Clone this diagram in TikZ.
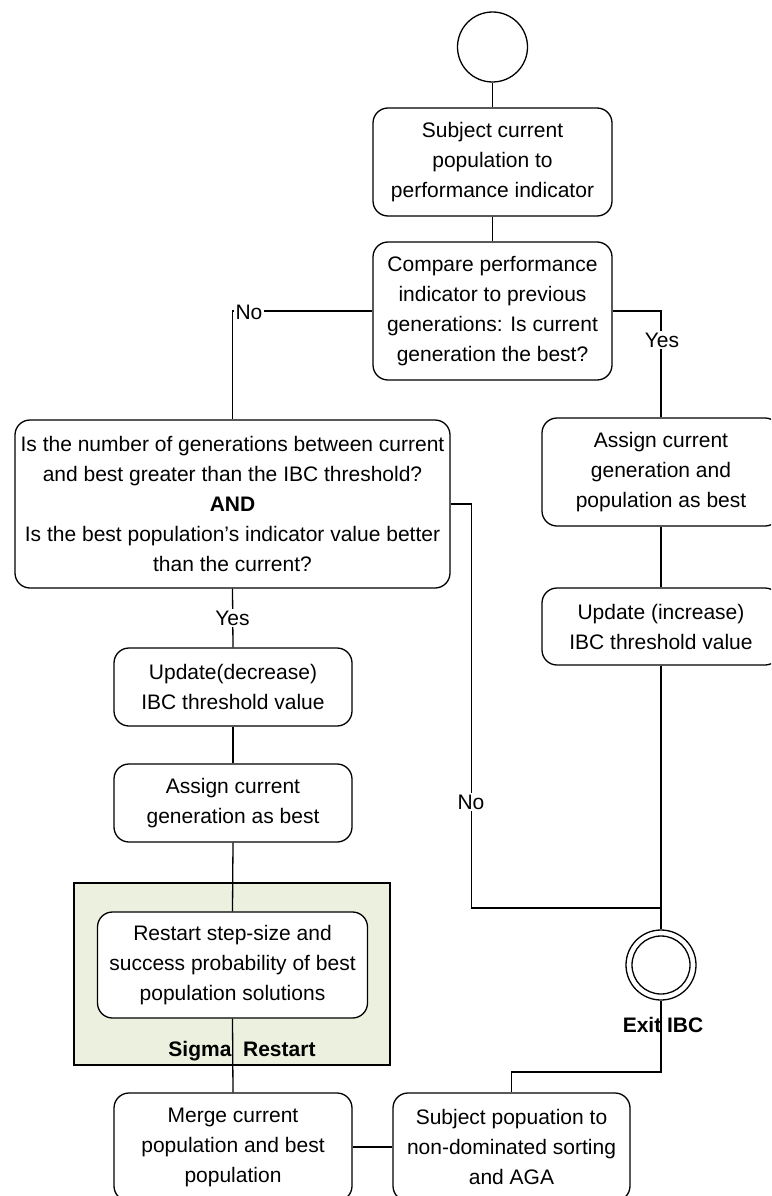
\documentclass[tikz,border=0pt]{standalone}
\usepackage{fontspec}
\setmainfont{Liberation Sans}
\definecolor{groupfill}{RGB}{235,241,222}
\begin{document}
\begin{tikzpicture}[x=1pt,y=-1pt,
  line width=1.3pt,
  every node/.style={font=\fontsize{21}{30}\selectfont},
  stepbox/.style={draw, rounded corners=15pt, fill=white, align=center, inner sep=2pt},
  lbl/.style={fill=white, inner sep=1.5pt},
  grouplbl/.style={font=\fontsize{21}{30}\selectfont\bfseries}]
\useasboundingbox (0,0) rectangle (771,1196);
\clip (0,0) rectangle (771,1196);

% Sigma restart group
\fill[groupfill] (74,883) rectangle (390,1065);
\draw (74,883) rectangle (390,1065);
\node[grouplbl] (sigmalbl) at (242,1051) {Sigma~~Restart};
\node[grouplbl] (exitlbl) at (663,1025) {Exit IBC};

% nodes
\node[circle, draw, fill=white, minimum size=70pt, inner sep=0pt] (start) at (492.5,47) {};
\node[stepbox, minimum width=239pt, minimum height=108pt] (s1) at (492.5,162)
  {Subject current\\population to\\performance indicator};
\node[stepbox, minimum width=239pt, minimum height=138pt] (s2) at (492.5,311)
  {Compare performance\\indicator to previous\\generations: Is current\\generation the best?};
\node[stepbox, minimum width=435pt, minimum height=168pt] (big) at (232.5,504)
  {Is the number of generations between current\\and best greater than the IBC threshold?\\\textbf{AND}\\Is the best population's indicator value better\\than the current?};
\node[stepbox, minimum width=238pt, minimum height=108pt] (a1) at (661,472)
  {Assign current\\generation and\\population as best};
\node[stepbox, minimum width=238pt, minimum height=77pt] (u1) at (661,626.5)
  {Update (increase)\\IBC threshold value};
\node[stepbox, minimum width=238pt, minimum height=78pt] (ud) at (233,687)
  {Update(decrease)\\IBC threshold value};
\node[stepbox, minimum width=238pt, minimum height=78pt] (ac) at (233,803)
  {Assign current\\generation as best};
\node[stepbox, minimum width=270pt, minimum height=106pt] (rs) at (232.5,965)
  {Restart step-size and\\success probability of best\\population solutions};
\node[stepbox, minimum width=238pt, minimum height=108pt] (mg) at (233,1147)
  {Merge current\\population and best\\population};
\node[stepbox, minimum width=237pt, minimum height=108pt] (sp) at (511.5,1147)
  {Subject popuation to\\non-dominated sorting\\and AGA};
\node[circle, draw, fill=white, minimum size=70pt, inner sep=0pt] (exit) at (661,965) {};
\draw (exit.center) circle (29pt);

\coordinate (join) at (661,908);
\coordinate (exitbend) at (661,1072);

% connectors
\draw (start) -- (s1);
\draw (s1) -- (s2);
\draw (s2.west) -| (big.north);
\draw (s2.east) -| (a1.north);
\draw (a1) -- (u1);
\draw (u1.south) -- (exit.north);
\draw (big.east) -- ++(21,0) |- (join);
\draw (big.south) -- (ud.north);
\draw (ud) -- (ac);
\draw (ac.south) -- (rs.north);
\draw (rs.south) -- (mg.north);
\draw (exit.south) -- (exitbend) -| (sp.north);
\draw (mg) -- (sp);

% branch labels
\node[lbl] (no1) at (249,312) {No};
\node[lbl] (yes1) at (662,340) {Yes};
\node[lbl] (yes2) at (232.5,618) {Yes};
\node[lbl] (no2) at (471,802) {No};
\end{tikzpicture}
\end{document}
